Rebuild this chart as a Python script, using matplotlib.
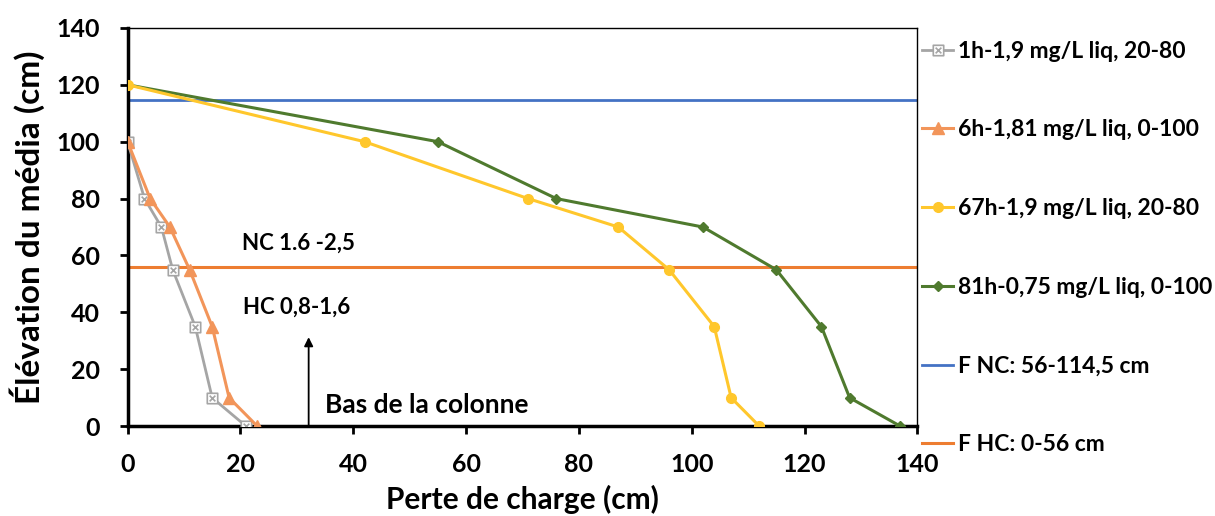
import matplotlib
matplotlib.use("Agg")
import matplotlib.pyplot as plt
from matplotlib.path import Path

plt.rcParams['font.family'] = ['Lato', 'DejaVu Sans']
plt.rcParams['font.weight'] = 'bold'

# Elevation levels (cm) and head loss (cm) for each run
elev = [100, 80, 70, 55, 35, 10, 0]
loss_1h = [0, 3, 6, 8, 12, 15, 21]
loss_6h = [0, 4, 7.5, 11, 15, 18, 23]

elev_long = [120, 100, 80, 70, 55, 35, 10, 0]
loss_67h = [0, 42, 71, 87, 96, 104, 107, 112]
loss_81h = [0, 55, 76, 102, 115, 123, 128, 137]

labels = ["1h-1,9 mg/L liq, 20-80", "6h-1,81 mg/L liq, 0-100",
          "67h-1,9 mg/L liq, 20-80", "81h-0,75 mg/L liq, 0-100",
          "F NC: 56-114,5 cm", "F HC: 0-56 cm"]
nc_level = 114.5
hc_level = 56

# square marker with crossed diagonals
d = 0.55
box_x = Path([(-1, -1), (1, -1), (1, 1), (-1, 1), (-1, -1),
              (-d, -d), (d, d), (-d, d), (d, -d)],
             [Path.MOVETO, Path.LINETO, Path.LINETO, Path.LINETO, Path.CLOSEPOLY,
              Path.MOVETO, Path.LINETO, Path.MOVETO, Path.LINETO])

fig = plt.figure(figsize=(12.15, 5.16), dpi=100)
ax = fig.add_axes([0.105, 0.174, 0.65, 0.772])

ax.plot(loss_1h, elev, color='#A5A5A5', lw=2, marker=box_x, ms=7.5,
        mfc='white', mec='#A5A5A5', mew=1.2, label=labels[0], zorder=3)
ax.plot(loss_6h, elev, color='#F2955A', lw=2.2, marker='^', ms=8,
        label=labels[1], zorder=3.1)
ax.plot(loss_67h, elev_long, color='#FFC72C', lw=2.2, marker='o', ms=7,
        label=labels[2], zorder=3.3)
ax.plot(loss_81h, elev_long, color='#4F7A2E', lw=2.2, marker='D', ms=5.5,
        label=labels[3], zorder=3.2)
ax.axhline(nc_level, color='#4472C4', lw=2, label=labels[4], zorder=2)
ax.axhline(hc_level, color='#ED7D31', lw=2.2, label=labels[5], zorder=2)

ax.text(20.2, 64.4, "NC 1.6 -2,5", fontsize=16, va='center', ha='left')
ax.text(20.4, 42, "HC 0,8-1,6", fontsize=16, va='center', ha='left')
ax.annotate("", xy=(32.1, 31.3), xytext=(32.1, 0),
            arrowprops=dict(arrowstyle='-|>', color='black', lw=1.3,
                            mutation_scale=13, shrinkA=0, shrinkB=0))
ax.text(35, 7.4, "Bas de la colonne", fontsize=19, va='center', ha='left')

ax.set_xlim(0, 140)
ax.set_ylim(0, 140)
ax.set_xticks(range(0, 141, 20))
ax.set_yticks(range(0, 141, 20))
ax.tick_params(axis='both', labelsize=18, width=2, length=6, direction='out')
ax.tick_params(axis='x', pad=13)
ax.tick_params(axis='y', pad=14)
for side in ['left', 'bottom']:
    ax.spines[side].set_linewidth(2.5)
for side in ['top', 'right']:
    ax.spines[side].set_linewidth(1)

ax.set_xlabel("Perte de charge (cm)", fontsize=21.5, fontweight='bold')
ax.xaxis.set_label_coords(0.5, -0.148)
ax.set_ylabel("Élévation du média (cm)", fontsize=24, fontweight='bold')
ax.yaxis.set_label_coords(-0.105, 0.5)

ax.legend(loc='upper left', bbox_to_anchor=(1.0063, 0.968), frameon=False,
          fontsize=16.5, labelspacing=2.52, handlelength=1.36, handletextpad=0.18,
          borderaxespad=0, borderpad=0)

fig.savefig("out.png", dpi=100)
